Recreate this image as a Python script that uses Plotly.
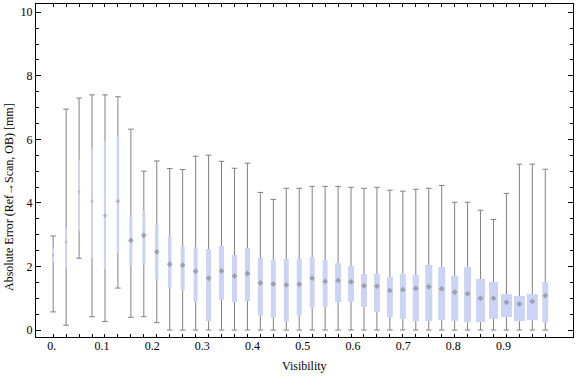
import plotly.graph_objects as go

# ---------------- data ----------------
bin_index = list(range(39))
# visibility bin centres (category positions)
visibility = [round(0.0028 + 0.0258 * i, 4) for i in bin_index]

whisker_max = [2.96, 6.95, 7.30, 7.40, 7.40, 7.34, 6.32, 5.00, 5.32, 5.08, 5.05, 5.47, 5.50,
               5.31, 5.09, 5.25, 4.33, 4.11, 4.46, 4.46, 4.52, 4.52, 4.52, 4.49, 4.46, 4.49,
               4.40, 4.37, 4.43, 4.46, 4.55, 4.02, 4.02, 3.77, 3.48, 4.30, 5.22, 5.22, 5.06]
q3 = [2.56, 3.20, 5.36, 5.70, 5.93, 6.10, 3.57, 3.76, 3.30, 2.96, 2.64, 2.61, 2.55,
      2.64, 2.36, 2.58, 2.27, 2.20, 2.24, 2.23, 2.30, 2.20, 2.10, 2.01, 1.76, 1.76,
      1.67, 1.76, 1.73, 2.05, 1.98, 1.70, 1.98, 1.61, 1.51, 1.13, 1.07, 1.13, 1.51]
median = [2.35, 2.77, 4.35, 4.05, 3.60, 4.05, 2.82, 2.98, 2.46, 2.07, 2.04, 1.85, 1.63,
          1.86, 1.70, 1.78, 1.48, 1.45, 1.42, 1.44, 1.63, 1.53, 1.56, 1.52, 1.39, 1.38,
          1.24, 1.27, 1.31, 1.36, 1.30, 1.19, 1.14, 1.00, 1.00, 0.87, 0.82, 0.90, 1.08]
q1 = [2.14, 1.95, 3.12, 2.29, 1.93, 2.42, 2.03, 2.06, 1.60, 1.32, 1.25, 0.88, 0.28,
      0.95, 0.88, 0.91, 0.45, 0.39, 0.26, 0.45, 0.70, 0.73, 0.88, 0.89, 0.73, 0.57,
      0.41, 0.35, 0.28, 0.28, 0.31, 0.29, 0.25, 0.25, 0.35, 0.41, 0.28, 0.31, 0.25]
whisker_min = [0.57, 0.15, 2.26, 0.42, 0.27, 1.32, 0.40, 0.42, 0.23, 0.0, 0.0, 0.0, 0.0,
               0.0, 0.0, 0.0, 0.0, 0.0, 0.0, 0.0, 0.0, 0.0, 0.0, 0.0, 0.0, 0.0,
               0.0, 0.0, 0.0, 0.0, 0.0, 0.0, 0.0, 0.0, 0.0, 0.0, 0.0, 0.0, 0.0]

x_tick_values = [0.0, 0.1, 0.2, 0.3, 0.4, 0.5, 0.6, 0.7, 0.8, 0.9]
x_tick_labels = ["0.", "0.1", "0.2", "0.3", "0.4", "0.5", "0.6", "0.7", "0.8", "0.9"]
y_tick_values = [0, 2, 4, 6, 8, 10]
x_title = "Visibility"
y_title = "Absolute Error (Ref→Scan, OB) [mm]"

# ---------------- style ----------------
box_px_width = [1, 1.3, 1.3, 1.7, 2.2, 2.4, 3, 3, 3.5, 3.5, 4, 4, 5, 5, 5, 5, 5, 5, 5, 5,
                5, 5, 6, 6, 6, 6, 6, 6, 6.3, 7, 7, 7, 7, 9, 9, 11, 11, 11, 6]

W, H = 576, 377
ML, MR, MT, MB = 36, 3, 4, 40
X_RANGE = [-0.0314, 1.0384]
Y_RANGE = [-0.22, 10.26]
FONT = "Liberation Serif, Times New Roman, serif"
BOX_FILL = "#ccd4f5"
WHISK = "#808080"

plot_w = W - ML - MR
plot_h = H - MT - MB
units_per_px = (X_RANGE[1] - X_RANGE[0]) / plot_w
box_widths = [w * units_per_px for w in box_px_width]
median_sizes = [max(2.5, min(4.5, 1.5 + w)) for w in box_px_width]
median_colors = ["rgba(120,120,120,%.2f)" % (0.35 if w < 2 else 0.55 if w < 3 else 0.8)
                 for w in box_px_width]

fig = go.Figure()

# boxes (interquartile range)
fig.add_trace(go.Bar(
    x=visibility, base=q1, y=[a - b for a, b in zip(q3, q1)],
    width=box_widths, marker=dict(color=BOX_FILL, line=dict(width=0)),
    hoverinfo="skip", showlegend=False,
))

# whiskers: lower (min -> q1) and upper (q3 -> max)
wx, wy = [], []
for xv, lo, a, b, hi in zip(visibility, whisker_min, q1, q3, whisker_max):
    wx += [xv, xv, None, xv, xv, None]
    wy += [lo, a, None, b, hi, None]
fig.add_trace(go.Scatter(
    x=wx, y=wy, mode="lines", line=dict(color=WHISK, width=1),
    hoverinfo="skip", showlegend=False,
))

# whisker caps
fig.add_trace(go.Scatter(
    x=visibility + visibility, y=whisker_min + whisker_max, mode="markers",
    marker=dict(symbol="line-ew", size=4, line=dict(color=WHISK, width=1)),
    hoverinfo="skip", showlegend=False,
))

# medians
fig.add_trace(go.Scatter(
    x=visibility, y=median, mode="markers",
    marker=dict(symbol="diamond", size=median_sizes, color=median_colors, line=dict(width=0)),
    hoverinfo="skip", showlegend=False,
))

# dummy trace to carry the labelled x axis
fig.add_trace(go.Scatter(x=[], y=[], xaxis="x2", hoverinfo="skip", showlegend=False))

fig.update_layout(
    width=W, height=H,
    margin=dict(l=ML, r=MR, t=MT, b=MB, autoexpand=False),
    paper_bgcolor="white", plot_bgcolor="white",
    barmode="overlay",
    font=dict(family=FONT, size=12, color="black"),
    xaxis=dict(
        range=X_RANGE, tickmode="array", tickvals=visibility, showticklabels=False,
        ticks="inside", ticklen=3, tickcolor="black", tickwidth=1,
        showline=True, linecolor="black", linewidth=1, mirror="ticks",
        showgrid=False, zeroline=False, automargin=False,
    ),
    xaxis2=dict(
        overlaying="x", anchor="y", side="bottom", range=X_RANGE,
        tickmode="array", tickvals=x_tick_values, ticktext=x_tick_labels,
        ticks="", showline=False, showgrid=False, zeroline=False, automargin=False,
        tickfont=dict(family=FONT, size=12, color="black"),
    ),
    yaxis=dict(
        range=Y_RANGE, tickmode="array", tickvals=y_tick_values,
        ticks="inside", ticklen=5, tickcolor="black", tickwidth=1,
        minor=dict(dtick=0.5, tick0=0, ticks="inside", ticklen=3, tickcolor="black", showgrid=False),
        showline=True, linecolor="black", linewidth=1, mirror="ticks",
        showgrid=False, zeroline=False, automargin=False,
        tickfont=dict(family=FONT, size=12, color="black"),
    ),
    annotations=[
        dict(text=x_title, xref="paper", yref="paper",
             x=(304 - ML) / plot_w, y=-(366 - (H - MB)) / plot_h,
             xanchor="center", yanchor="middle", showarrow=False,
             font=dict(family=FONT, size=12, color="black")),
        dict(text=y_title, xref="paper", yref="paper", textangle=-90,
             x=-(ML - 9) / plot_w, y=((H - MB) - 197) / plot_h,
             xanchor="center", yanchor="middle", showarrow=False,
             font=dict(family=FONT, size=12, color="black")),
    ],
)

fig.write_html("out.html", config={"displayModeBar": False},
               post_script="document.body.style.margin='0';document.body.style.overflow='hidden';")
